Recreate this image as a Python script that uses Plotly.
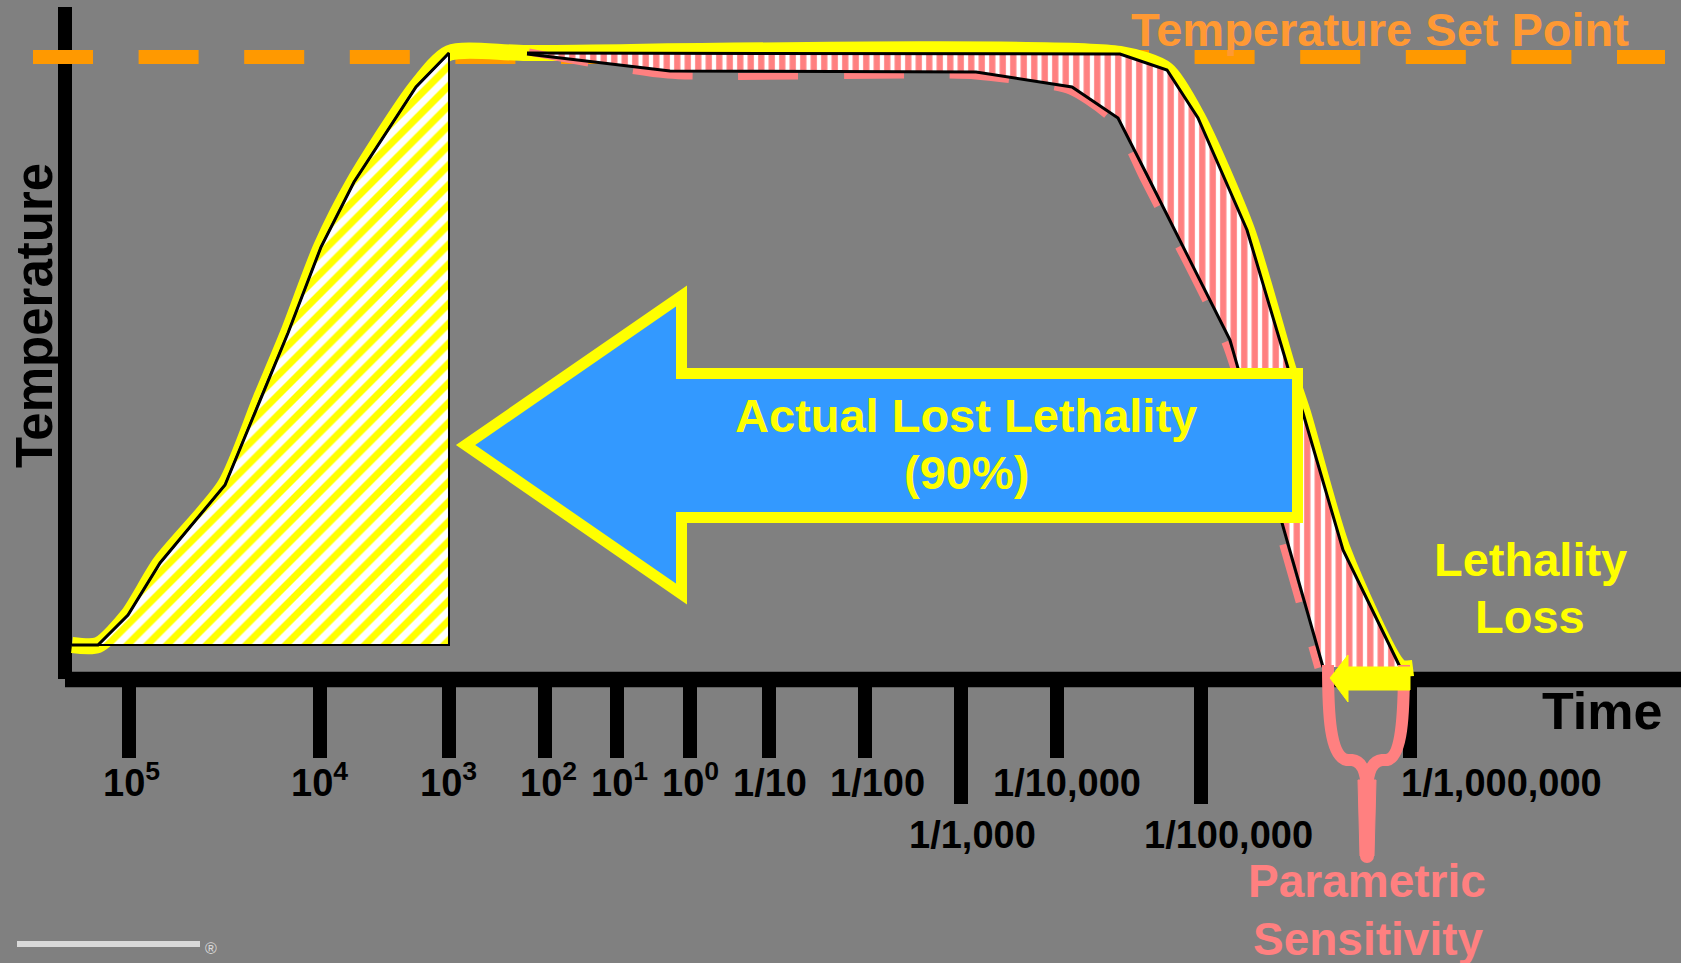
import plotly.graph_objects as go

# ---------------- data (diagram units: x = position on the time axis, y = temperature, drawn downward) -------------
TICK_POS = [129, 320, 449, 545, 617, 690, 769, 865, 961, 1057, 1201, 1410]
TICK_LABELS = ["10<sup>5</sup>", "10<sup>4</sup>", "10<sup>3</sup>", "10<sup>2</sup>", "10<sup>1</sup>",
               "10<sup>0</sup>", "1/10", "1/100", "1/1,000", "1/10,000", "1/100,000", "1/1,000,000"]
TICK_LONG = [False, False, False, False, False, False, False, False, True, False, True, False]
TICK_LABEL_X = [131, 319, 448, 548, 619, 690, 770, 877, 972, 1067, 1228, 1501]

SET_POINT_X = [33, 1665]
SET_POINT_Y = [57, 57]

HEAT_X = [72, 98, 128, 160, 225, 260, 288, 321, 354, 416, 449]
HEAT_Y = [645, 645, 615, 563, 485, 400, 333, 247, 182, 87, 53]

COOL_UP_X = [527, 1120, 1167, 1198, 1247, 1288, 1303, 1343, 1400]
COOL_UP_Y = [53, 54, 70, 118, 230, 368, 413, 550, 667]

COOL_LO_X = [527, 670, 976, 1072, 1118, 1147, 1230, 1282, 1323]
COOL_LO_Y = [54, 71, 72, 87, 118, 175, 340, 523, 667]

PARAM_X = [529, 668, 976, 1070, 1115, 1144, 1226, 1278, 1318]
PARAM_Y = [52, 75, 76, 91, 123, 180, 345, 528, 668]

ARROW_X = [465.6, 681.5, 681.5, 1297.5, 1297.5, 681.5, 681.5, 465.6]
ARROW_Y = [445, 296, 373.5, 373.5, 517.5, 517.5, 594, 445]

LOSS_ARROW_X = [1330, 1348, 1348, 1410, 1410, 1348, 1348, 1330]
LOSS_ARROW_Y = [678, 655, 667, 667, 690, 690, 702, 678]

GREY = "#808080"
YELLOW = "#FFFF00"
PINK = "#FF8080"
ORANGE = "#FF9900"
BLUE = "#3399FF"
FONT = "Liberation Sans, Arial, sans-serif"

fig = go.Figure()

# set point dashed line
fig.add_trace(go.Scatter(x=SET_POINT_X, y=SET_POINT_Y, mode="lines",
                         line=dict(color=ORANGE, width=14, dash="60px,45.6px"), hoverinfo="skip"))

# thick yellow profile
fig.add_trace(go.Scatter(x=HEAT_X + COOL_UP_X + [1413], y=HEAT_Y + COOL_UP_Y + [668], mode="lines",
                         line=dict(color=YELLOW, width=16, shape="spline", smoothing=0.7), hoverinfo="skip"))

# pink dashed parametric profile
fig.add_trace(go.Scatter(x=PARAM_X, y=PARAM_Y, mode="lines",
                         line=dict(color=PINK, width=7, dash="60px,45.6px", shape="spline", smoothing=0.6),
                         hoverinfo="skip"))

# yellow hatched lethality area
fig.add_trace(go.Scatter(x=HEAT_X[1:] + [HEAT_X[-1], HEAT_X[1]], y=HEAT_Y[1:] + [HEAT_Y[0], HEAT_Y[0]],
                         mode="lines", fill="toself", line=dict(color="black", width=2),
                         fillpattern=dict(shape="/", fgcolor=YELLOW, bgcolor="white", size=14,
                                          solidity=0.5, fgopacity=1, fillmode="replace"),
                         hoverinfo="skip"))

# pink striped lost lethality area
fig.add_trace(go.Scatter(x=COOL_UP_X + COOL_LO_X[::-1], y=COOL_UP_Y + COOL_LO_Y[::-1],
                         mode="lines", fill="toself", line=dict(color="rgba(0,0,0,0)", width=0),
                         fillpattern=dict(shape="|", fgcolor=PINK, bgcolor="white", size=10.5,
                                          solidity=0.6, fgopacity=1, fillmode="replace"),
                         hoverinfo="skip"))

# black profile lines
for xs, ys in [(HEAT_X, HEAT_Y), (COOL_UP_X, COOL_UP_Y), (COOL_LO_X, COOL_LO_Y)]:
    fig.add_trace(go.Scatter(x=xs, y=ys, mode="lines", line=dict(color="black", width=3), hoverinfo="skip"))

shapes = []
# axes
shapes.append(dict(type="line", x0=65, x1=65, y0=7, y1=679, line=dict(color="black", width=14), layer="below"))
shapes.append(dict(type="line", x0=65, x1=1681, y0=679.5, y1=679.5, line=dict(color="black", width=15.5),
                   layer="below"))
for pos, long_ in zip(TICK_POS, TICK_LONG):
    shapes.append(dict(type="line", x0=pos, x1=pos, y0=682, y1=804 if long_ else 758,
                       line=dict(color="black", width=14), layer="below"))

# big blue arrow
arrow_path = "M " + " L ".join(f"{x},{y}" for x, y in zip(ARROW_X[:-1], ARROW_Y[:-1])) + " Z"
shapes.append(dict(type="path", path=arrow_path, fillcolor=BLUE, line=dict(color=YELLOW, width=11)))

# pink brace
brace = ("M 1328,665 C 1328,715 1330,757 1347,760 L 1352,760 C 1362,761 1367,772 1367,795 "
         "M 1404,665 C 1404,715 1402,757 1387,760 L 1382,760 C 1372,761 1367,772 1367,795")
shapes.append(dict(type="path", path=brace, line=dict(color=PINK, width=12)))
shapes.append(dict(type="path", path="M 1358,780 L 1376,780 L 1374,856 L 1360,856 Z",
                   fillcolor=PINK, line=dict(color=PINK, width=1)))
shapes.append(dict(type="circle", x0=1360, x1=1374, y0=849, y1=863, fillcolor=PINK, line=dict(width=0)))

# small lethality loss arrow
loss_path = "M " + " L ".join(f"{x},{y}" for x, y in zip(LOSS_ARROW_X[:-1], LOSS_ARROW_Y[:-1])) + " Z"
shapes.append(dict(type="path", path=loss_path, fillcolor=YELLOW, line=dict(color=YELLOW, width=1)))

# logo bar
shapes.append(dict(type="line", x0=17, x1=200, y0=944, y1=944, line=dict(color="#D9D9D9", width=6)))

annotations = []


def txt(text, x, y, size, color, anchor="bottom", angle=0):
    annotations.append(dict(text=text, x=x, y=y, xref="x", yref="y", showarrow=False,
                            xanchor="center", yanchor=anchor, textangle=angle,
                            font=dict(family=FONT, size=size, color=color, weight="bold")))


for lab, lx, long_ in zip(TICK_LABELS, TICK_LABEL_X, TICK_LONG):
    txt(lab, lx, 858 if long_ else 806, 38, "black")

txt("Temperature Set Point", 1380, 58, 47, "#FF9933")
txt("Actual Lost Lethality", 966, 444, 47, YELLOW)
txt("(90%)", 966, 501, 47, YELLOW)
txt("Lethality", 1530, 588, 47, YELLOW)
txt("Loss", 1530, 645, 47, YELLOW)
txt("Time", 1602, 742, 52, "black")
txt("Parametric", 1367, 909, 46, PINK)
txt("Sensitivity", 1368, 939, 46, PINK, anchor="middle")
txt("Temperature", 34, 316, 51, "black", anchor="middle", angle=-90)
annotations.append(dict(text="®", x=211, y=948, xref="x", yref="y", showarrow=False,
                        font=dict(family=FONT, size=16, color="#D9D9D9")))

fig.update_layout(
    width=1681, height=963, margin=dict(l=0, r=0, t=0, b=0, pad=0),
    paper_bgcolor=GREY, plot_bgcolor=GREY, showlegend=False,
    xaxis=dict(range=[0, 1681], visible=False, fixedrange=True),
    yaxis=dict(range=[963, 0], visible=False, fixedrange=True),
    shapes=shapes, annotations=annotations,
)

fig.write_html("out.html", config={"displayModeBar": False},
               post_script="document.body.style.margin='0';document.body.style.overflow='hidden';")
